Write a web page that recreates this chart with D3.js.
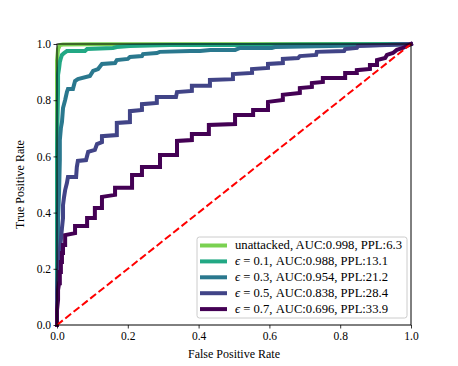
<!DOCTYPE html>
<html>
<head>
<meta charset="utf-8">
<script src="https://cdn.jsdelivr.net/npm/d3@7"></script>
<style>
html,body{margin:0;padding:0;background:#fff;}
svg{display:block;}
</style>
</head>
<body>
<svg id="chart" width="458" height="366"></svg>
<script>
// ---- data ----
const seriesNames = ["unattacked", "eps0.1", "eps0.3", "eps0.5", "eps0.7"];
const legendEps = [null, "0.1", "0.3", "0.5", "0.7"];
const legendAUC = ["0.998", "0.988", "0.954", "0.838", "0.696"];
const legendPPL = ["6.3", "13.1", "21.2", "28.4", "33.9"];
const seriesColors = ["#7ad151", "#22a884", "#2a788e", "#414487", "#440154"];

const fprUnattacked = [0, 0, 0.003, 0.008, 0.017, 0.093, 1.0];
const tprUnattacked = [0, 0.94, 0.982, 0.996, 0.998, 0.999, 1.0];

const fprEps01 = [0, 0, 0.003, 0.003, 0.006, 0.008, 0.011, 0.014, 0.020, 0.028, 0.079, 0.085, 0.158, 0.169, 0.206, 0.319, 0.545, 0.686, 1.0];
const tprEps01 = [0, 0.623, 0.836, 0.890, 0.915, 0.936, 0.950, 0.961, 0.968, 0.975, 0.975, 0.982, 0.986, 0.989, 0.993, 0.996, 0.996, 0.998, 1.0];

const fprEps03 = [0, 0, 0.003, 0.003, 0.006, 0.008, 0.008, 0.011, 0.014, 0.017, 0.023, 0.028, 0.031, 0.045, 0.051, 0.059, 0.093, 0.102, 0.116, 0.127, 0.164, 0.169, 0.200, 0.206, 0.240, 0.243, 0.282, 0.290, 0.376, 0.404, 0.433, 0.503, 0.517, 0.607, 0.616, 0.771, 0.912, 1.0];
const tprEps03 = [0, 0.125, 0.231, 0.374, 0.480, 0.587, 0.658, 0.701, 0.722, 0.772, 0.801, 0.829, 0.840, 0.840, 0.868, 0.875, 0.886, 0.904, 0.911, 0.929, 0.932, 0.943, 0.947, 0.954, 0.957, 0.964, 0.968, 0.972, 0.975, 0.975, 0.979, 0.979, 0.986, 0.986, 0.989, 0.993, 0.996, 1.0];

const fprEps05 = [0, 0, 0.003, 0.006, 0.008, 0.011, 0.014, 0.017, 0.017, 0.020, 0.023, 0.028, 0.031, 0.054, 0.056, 0.059, 0.082, 0.088, 0.107, 0.113, 0.127, 0.127, 0.169, 0.169, 0.206, 0.206, 0.240, 0.240, 0.282, 0.282, 0.336, 0.339, 0.381, 0.381, 0.432, 0.432, 0.497, 0.497, 0.551, 0.551, 0.596, 0.596, 0.638, 0.638, 0.681, 0.686, 0.732, 0.734, 0.811, 0.814, 0.847, 0.850, 0.932, 0.969, 1.0];
const tprEps05 = [0, 0.107, 0.178, 0.224, 0.267, 0.302, 0.345, 0.381, 0.427, 0.456, 0.480, 0.505, 0.527, 0.527, 0.562, 0.584, 0.587, 0.616, 0.623, 0.644, 0.651, 0.672, 0.676, 0.719, 0.722, 0.761, 0.765, 0.786, 0.790, 0.811, 0.811, 0.829, 0.833, 0.851, 0.851, 0.872, 0.875, 0.893, 0.897, 0.911, 0.915, 0.929, 0.932, 0.947, 0.950, 0.957, 0.961, 0.972, 0.975, 0.982, 0.986, 0.993, 0.996, 0.998, 1.0];

const fprEps07 = [0, 0, 0.003, 0.003, 0.006, 0.008, 0.008, 0.011, 0.011, 0.014, 0.014, 0.017, 0.017, 0.023, 0.023, 0.051, 0.051, 0.085, 0.085, 0.107, 0.107, 0.127, 0.127, 0.164, 0.164, 0.212, 0.212, 0.240, 0.240, 0.291, 0.291, 0.339, 0.339, 0.381, 0.381, 0.429, 0.429, 0.503, 0.503, 0.554, 0.554, 0.596, 0.596, 0.638, 0.638, 0.686, 0.686, 0.720, 0.720, 0.751, 0.751, 0.814, 0.814, 0.847, 0.847, 0.884, 0.884, 0.904, 0.904, 0.927, 0.932, 0.949, 0.960, 0.977, 1.0];
const tprEps07 = [0, 0.053, 0.089, 0.125, 0.149, 0.149, 0.189, 0.189, 0.224, 0.224, 0.256, 0.256, 0.285, 0.285, 0.320, 0.327, 0.352, 0.352, 0.381, 0.381, 0.416, 0.416, 0.456, 0.463, 0.488, 0.488, 0.534, 0.534, 0.562, 0.562, 0.605, 0.605, 0.655, 0.658, 0.680, 0.680, 0.712, 0.715, 0.747, 0.747, 0.765, 0.765, 0.794, 0.801, 0.819, 0.826, 0.843, 0.847, 0.861, 0.865, 0.879, 0.879, 0.897, 0.897, 0.907, 0.911, 0.925, 0.925, 0.943, 0.950, 0.961, 0.968, 0.979, 0.986, 1.0];

const chanceX = [0, 1];
const chanceY = [0, 1];
const tickValues = [0, 0.2, 0.4, 0.6, 0.8, 1.0];

// ---- layout ----
const SERIF = "'Liberation Serif', 'DejaVu Serif', serif";
const svg = d3.select("#chart");
const L = 57, R = 411, T = 44, B = 325;
const x = d3.scaleLinear().domain([0, 1]).range([L, R]);
const y = d3.scaleLinear().domain([0, 1]).range([B, T]);

const fprs = [fprUnattacked, fprEps01, fprEps03, fprEps05, fprEps07];
const tprs = [tprUnattacked, tprEps01, tprEps03, tprEps05, tprEps07];

svg.append("defs").append("clipPath").attr("id", "clip")
  .append("rect").attr("x", L - 3).attr("y", T - 3).attr("width", R - L + 6).attr("height", B - T + 6);

const line = d3.line().x(d => x(d[0])).y(d => y(d[1]));
const g = svg.append("g").attr("clip-path", "url(#clip)");

seriesNames.forEach((name, i) => {
  const pts = fprs[i].map((f, k) => [f, tprs[i][k]]);
  g.append("path").datum(pts)
    .attr("d", line)
    .attr("fill", "none")
    .attr("stroke", seriesColors[i])
    .attr("stroke-width", 4)
    .attr("stroke-linejoin", "miter")
    .attr("stroke-linecap", "square");
});

g.append("path").datum(chanceX.map((v, k) => [v, chanceY[k]]))
  .attr("d", line)
  .attr("fill", "none")
  .attr("stroke", "#ff0000")
  .attr("stroke-width", 2)
  .attr("stroke-dasharray", "7.4,3.2");

// frame
svg.append("rect").attr("x", L).attr("y", T).attr("width", R - L).attr("height", B - T)
  .attr("fill", "none").attr("stroke", "#000").attr("stroke-width", 1);

// axes
const fmt = d3.format(".1f");
const xAxis = svg.append("g").attr("transform", `translate(0,${B})`)
  .call(d3.axisBottom(x).tickValues(tickValues).tickFormat(fmt).tickSize(3.5).tickSizeOuter(0));
const yAxis = svg.append("g").attr("transform", `translate(${L},0)`)
  .call(d3.axisLeft(y).tickValues(tickValues).tickFormat(fmt).tickSize(3.5).tickSizeOuter(0));
[xAxis, yAxis].forEach(a => {
  a.attr("font-family", null).attr("font-size", null);
  a.select(".domain").remove();
  a.selectAll("line").attr("stroke", "#000").attr("stroke-width", 0.8);
  a.selectAll("text").style("font-family", SERIF).style("font-size", "11.5px").attr("fill", "#000");
});
xAxis.selectAll("text").attr("dy", "0.71em").attr("y", 7);
yAxis.selectAll("text").attr("x", -6);

svg.append("text").attr("x", (L + R) / 2).attr("y", 358).attr("text-anchor", "middle")
  .style("font-family", SERIF).style("font-size", "12px").text("False Positive Rate");
svg.append("text").attr("transform", `translate(24,${(T + B) / 2}) rotate(-90)`).attr("text-anchor", "middle")
  .style("font-family", SERIF).style("font-size", "12px").text("True Positive Rate");

// legend
const lg = svg.append("g");
lg.append("rect").attr("x", 197).attr("y", 237).attr("width", 210).attr("height", 81)
  .attr("rx", 2.5).attr("fill", "#fff").attr("fill-opacity", 0.8)
  .attr("stroke", "#cccccc").attr("stroke-width", 1);
seriesNames.forEach((name, i) => {
  const ry = 245.5 + i * 15.9;
  lg.append("line").attr("x1", 200).attr("x2", 227).attr("y1", ry).attr("y2", ry)
    .attr("stroke", seriesColors[i]).attr("stroke-width", 4);
  const t = lg.append("text").attr("x", 235).attr("y", ry + 3.8)
    .style("font-family", SERIF).style("font-size", "11.5px");
  if (legendEps[i] === null) {
    t.text(`unattacked, AUC:${legendAUC[i]}, PPL:${legendPPL[i]}`);
  } else {
    t.append("tspan").attr("font-style", "italic").text("\u03F5");
    t.append("tspan").text(` = ${legendEps[i]}, AUC:${legendAUC[i]}, PPL:${legendPPL[i]}`);
  }
  const target = [167, 153, 153, 153, 153][i];
  const w = t.node().getComputedTextLength();
  if (w > 0) t.attr("textLength", target).attr("lengthAdjust", "spacingAndGlyphs");
});
</script>
</body>
</html>
